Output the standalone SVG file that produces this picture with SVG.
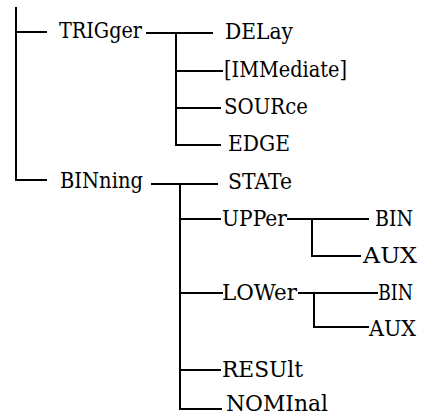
<svg xmlns="http://www.w3.org/2000/svg" width="424" height="416" viewBox="0 0 424 416">
  <style>
    .wire { stroke: #000; stroke-width: 2; fill: none; stroke-linecap: square; }
    .lbl { font-family: "DejaVu Serif", serif; font-size: 23px; fill: #000; }
  </style>
  <rect width="424" height="416" fill="#fff"/>

  <!-- tree connectors -->
  <g id="connectors" class="wire">
    <!-- root trunk -->
    <path d="M16 8V180M16 32H46M16 180H46"/>
    <!-- TRIGger subtree -->
    <path d="M147 33H212M176 33V145M176 71H222M176 108H220M176 145H220"/>
    <!-- BINning subtree -->
    <path d="M152 184H217M180 184V409M180 219H220M180 293H222M180 370H220M180 409H221"/>
    <!-- UPPer subtree -->
    <path d="M288 219H368M312 219V256H360"/>
    <!-- LOWer subtree -->
    <path d="M299 293H377M314 293V327H368"/>
  </g>

  <!-- labels -->
  <g class="lbl">
    <g id="trigger"><text x="59" y="38" textLength="83" lengthAdjust="spacingAndGlyphs">TRIGger</text></g>
    <g id="trigger-delay"><text x="225" y="39" textLength="68" lengthAdjust="spacingAndGlyphs">DELay</text></g>
    <g id="trigger-immediate"><text x="224" y="77" textLength="123" lengthAdjust="spacingAndGlyphs">[IMMediate]</text></g>
    <g id="trigger-source"><text x="224" y="114" textLength="84" lengthAdjust="spacingAndGlyphs">SOURce</text></g>
    <g id="trigger-edge"><text x="228" y="151" textLength="62" lengthAdjust="spacingAndGlyphs">EDGE</text></g>

    <g id="binning"><text x="60" y="188" textLength="83" lengthAdjust="spacingAndGlyphs">BINning</text></g>
    <g id="binning-state"><text x="228" y="189" textLength="64" lengthAdjust="spacingAndGlyphs">STATe</text></g>
    <g id="binning-upper"><text x="222" y="226" textLength="65" lengthAdjust="spacingAndGlyphs">UPPer</text></g>
    <g id="upper-bin"><text x="375" y="226" textLength="38" lengthAdjust="spacingAndGlyphs">BIN</text></g>
    <g id="upper-aux"><text x="363" y="263" textLength="54" lengthAdjust="spacingAndGlyphs">AUX</text></g>
    <g id="binning-lower"><text x="222" y="300" textLength="75" lengthAdjust="spacingAndGlyphs">LOWer</text></g>
    <g id="lower-bin"><text x="378" y="300" textLength="35" lengthAdjust="spacingAndGlyphs">BIN</text></g>
    <g id="lower-aux"><text x="369" y="336" textLength="47" lengthAdjust="spacingAndGlyphs">AUX</text></g>
    <g id="binning-result"><text x="222" y="377" textLength="81" lengthAdjust="spacingAndGlyphs">RESUlt</text></g>
    <g id="binning-nominal"><text x="226" y="411" textLength="102" lengthAdjust="spacingAndGlyphs">NOMInal</text></g>
  </g>
</svg>
